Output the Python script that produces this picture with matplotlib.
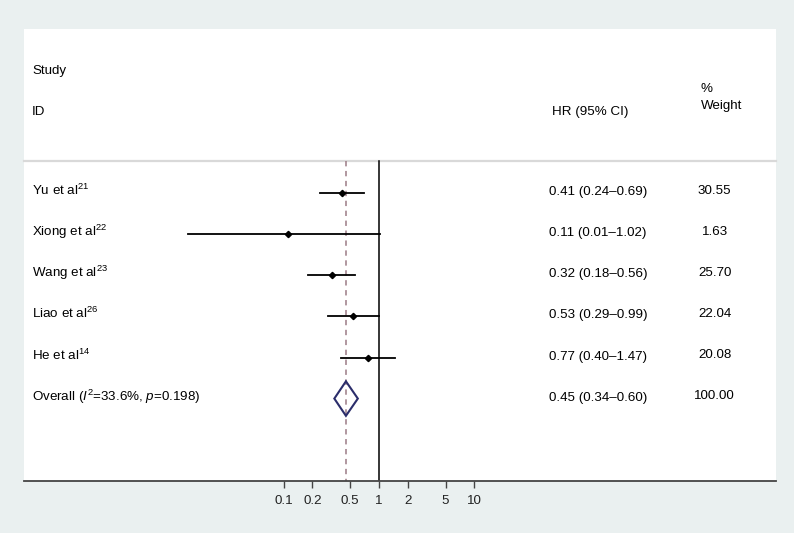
import matplotlib.pyplot as plt
from matplotlib.patches import Polygon
import matplotlib.transforms as mtransforms

plt.rcParams['font.family'] = ['Liberation Sans', 'DejaVu Sans']
plt.rcParams['mathtext.fontset'] = 'custom'
plt.rcParams['mathtext.rm'] = 'Liberation Sans'
plt.rcParams['mathtext.it'] = 'Liberation Sans:italic'
plt.rcParams['font.size'] = 9.6

# Data
studies = ['Yu et al', 'Xiong et al', 'Wang et al', 'Liao et al', 'He et al']
refs = ['21', '22', '23', '26', '14']
hr = [0.41, 0.11, 0.32, 0.53, 0.77]
ci_low = [0.24, 0.01, 0.18, 0.29, 0.40]
ci_high = [0.69, 1.02, 0.56, 0.99, 1.47]
weights = [30.55, 1.63, 25.70, 22.04, 20.08]

overall_hr = 0.45
overall_low = 0.34
overall_high = 0.60
overall_weight = 100.00
i2 = 33.6
p_het = 0.198

ticks = [0.1, 0.2, 0.5, 1, 2, 5, 10]
tick_labels = ['0.1', '0.2', '0.5', '1', '2', '5', '10']

W, H = 794, 533
fig = plt.figure(figsize=(W / 100, H / 100), dpi=100, facecolor='#eaf0f0')
ax = fig.add_axes([24 / W, (H - 480.7) / H, (775.7 - 24) / W, (480.7 - 29) / H])
ax.set_facecolor('white')

ax.set_xscale('log')
ax.set_xlim(10 ** -3.725, 10 ** 4.163)
ax.set_ylim(8, -3)

for s in ['top', 'right', 'left']:
    ax.spines[s].set_visible(False)
ax.spines['bottom'].set_color('#444444')
ax.spines['bottom'].set_linewidth(1.3)
ax.set_yticks([])
ax.set_xticks(ticks)
ax.set_xticklabels(tick_labels)
ax.minorticks_off()
ax.tick_params(axis='x', direction='out', length=5, width=1, color='#444444',
               pad=5, labelsize=9.6, labelcolor='#222222')

trans = mtransforms.blended_transform_factory(ax.transAxes, ax.transData)

# header separator
sep_y = 0.22
ax.plot([0, 1], [sep_y, sep_y], transform=trans, color='#d9d9d9', lw=1.6,
        clip_on=False, zorder=1)

# reference lines
ax.plot([1, 1], [sep_y, 8], color='black', lw=1.1, zorder=2)
ax.plot([overall_hr, overall_hr], [sep_y, 8], color='#9b7a85', lw=1.1,
        dashes=(3.5, 3), zorder=2)

# headers
ax.text(0.0106, -1.91, 'Study', transform=trans, va='baseline', ha='left')
ax.text(0.0106, -0.90, 'ID', transform=trans, va='baseline', ha='left')
ax.text(0.702, -0.90, 'HR (95% CI)', transform=trans, va='baseline', ha='left')
ax.text(0.9006, -1.46, '%', transform=trans, va='baseline', ha='left')
ax.text(0.9006, -1.05, 'Weight', transform=trans, va='baseline', ha='left')

rows = list(range(1, len(studies) + 1))
for r, name, ref, est, lo, hi, w in zip(rows, studies, refs, hr, ci_low, ci_high, weights):
    ax.plot([lo, hi], [r, r], color='black', lw=1.3, zorder=3)
    ax.plot([est], [r], marker='D', color='black', markersize=3.2, zorder=4)
    ax.text(0.0106, r + 0.05, name + '$^{' + ref + '}$', transform=trans,
            va='baseline', ha='left')
    ax.text(0.698, r + 0.05, f'{est:.2f} ({lo:.2f}\u2013{hi:.2f})', transform=trans,
            va='baseline', ha='left')
    ax.text(0.919, r + 0.02, f'{w:.2f}', transform=trans, va='baseline', ha='center')

# overall diamond
r_ov = len(studies) + 1
dh = 0.42
diamond = Polygon([[overall_low, r_ov], [overall_hr, r_ov - dh], [overall_high, r_ov],
                   [overall_hr, r_ov + dh]], closed=True, facecolor='none',
                  edgecolor='#2b2d6b', lw=1.5, zorder=4)
ax.add_patch(diamond)
ax.text(0.0106, r_ov + 0.05,
        f'Overall ($I^2$={i2:.1f}%, $p$={p_het:.3f})', transform=trans,
        va='baseline', ha='left')
ax.text(0.698, r_ov + 0.05,
        f'{overall_hr:.2f} ({overall_low:.2f}\u2013{overall_high:.2f})',
        transform=trans, va='baseline', ha='left')
ax.text(0.919, r_ov + 0.02, f'{overall_weight:.2f}', transform=trans,
        va='baseline', ha='center')

fig.savefig('out.png', dpi=100, facecolor=fig.get_facecolor())
